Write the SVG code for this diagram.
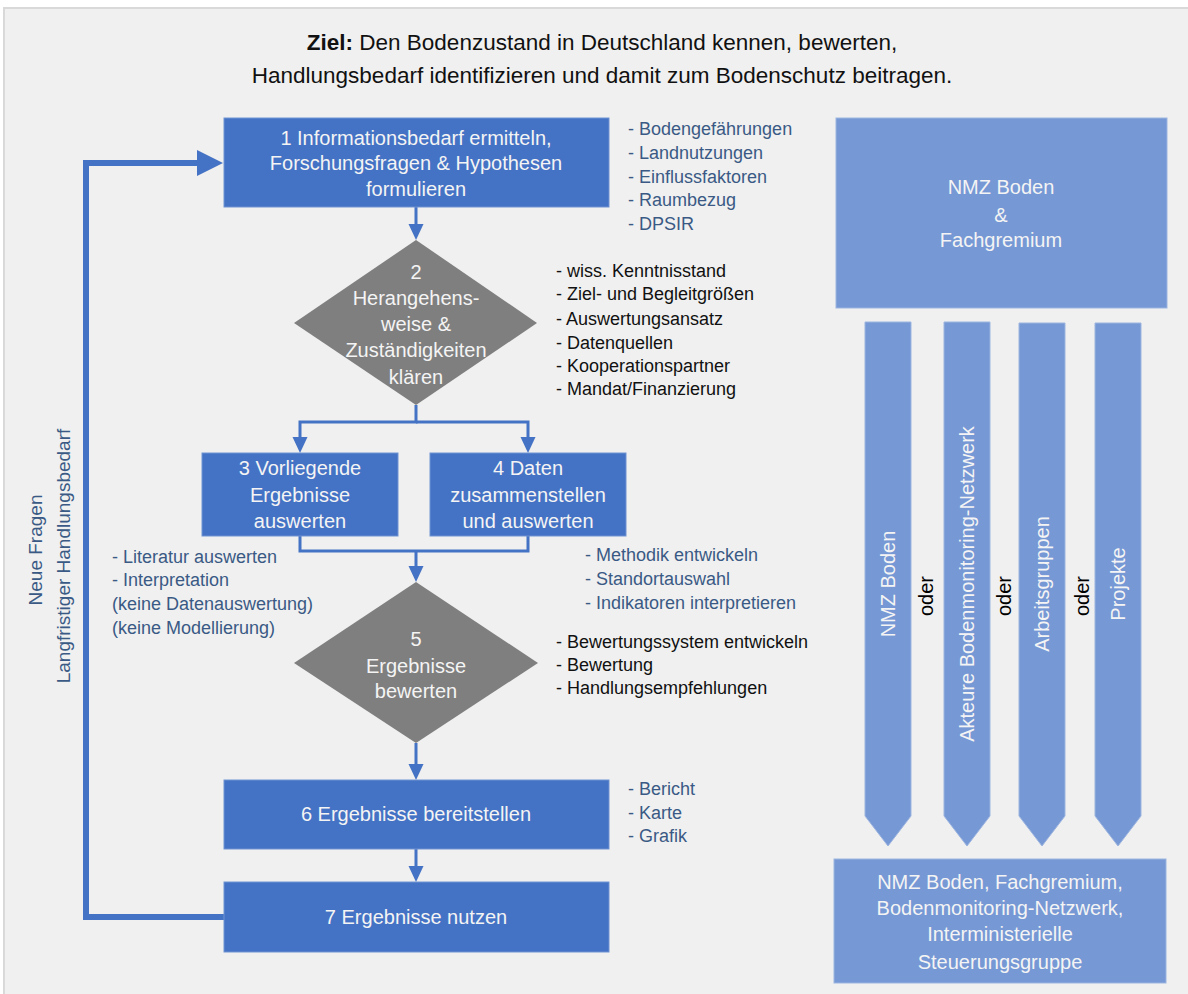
<svg xmlns="http://www.w3.org/2000/svg" width="1188" height="994" viewBox="0 0 1188 994">
<defs>
<style>
.t{font-family:"Liberation Sans",Arial,sans-serif}
.box{fill:#4472C4;stroke:#6F93D2;stroke-width:1}
.lbox{fill:#7698D4;stroke:#9DB5E0;stroke-width:1}
.dia{fill:#7F7F7F}
.wt{font-family:"Liberation Sans",Arial,sans-serif;font-size:20px;fill:#F4F4F4;text-anchor:middle}
.lb{font-family:"Liberation Sans",Arial,sans-serif;font-size:18px;fill:#3A5A85}
.lk{font-family:"Liberation Sans",Arial,sans-serif;font-size:18px;fill:#111111}
.con{fill:none;stroke:#4472C4;stroke-width:3}
.loop{fill:none;stroke:#4472C4;stroke-width:6}
.rot{font-family:"Liberation Sans",Arial,sans-serif;font-size:20px;fill:#F4F4F4;text-anchor:middle}
.oder{font-family:"Liberation Sans",Arial,sans-serif;font-size:20px;fill:#000;text-anchor:middle}
.side{font-family:"Liberation Sans",Arial,sans-serif;font-size:19px;fill:#3A5A85;text-anchor:middle}
</style>
<marker id="ah" markerUnits="userSpaceOnUse" markerWidth="18" markerHeight="16" refX="6" refY="7.5" orient="auto">
<path d="M0,0 L16,7.5 L0,15 Z" fill="#4472C4"/>
</marker>
<marker id="bah" markerUnits="userSpaceOnUse" markerWidth="28" markerHeight="28" refX="4" refY="13" orient="auto">
<path d="M0,0 L26,13 L0,26 Z" fill="#4472C4"/>
</marker>
</defs>

<rect x="4" y="8" width="1190" height="992" fill="#F0F0F0" stroke="#D9D9D9" stroke-width="2"/>

<g id="title">
<text class="t" x="602" y="50" font-size="22.5" text-anchor="middle" fill="#111"><tspan font-weight="bold">Ziel:</tspan> Den Bodenzustand in Deutschland kennen, bewerten,</text>
<text class="t" x="602" y="83" font-size="22.5" text-anchor="middle" fill="#111">Handlungsbedarf identifizieren und damit zum Bodenschutz beitragen.</text>
</g>

<g id="connectors">
<path class="con" d="M416,207 V230" marker-end="url(#ah)"/>
<path class="con" d="M416,405 V422 H300 V443" marker-end="url(#ah)"/>
<path class="con" d="M416,422 H528 V443" marker-end="url(#ah)"/>
<path class="con" d="M300,536 V551 H528 V536"/>
<path class="con" d="M416,551 V572" marker-end="url(#ah)"/>
<path class="con" d="M416,743 V770" marker-end="url(#ah)"/>
<path class="con" d="M416,849 V872" marker-end="url(#ah)"/>
<path class="loop" d="M224,917 H86 V163 H201" marker-end="url(#bah)"/>
</g>

<g id="n1">
<rect class="box" x="224" y="118" width="385" height="89"/>
<text class="wt" x="416" y="145">1 Informationsbedarf ermitteln,</text>
<text class="wt" x="416" y="170">Forschungsfragen &amp; Hypothesen</text>
<text class="wt" x="416" y="196">formulieren</text>
</g>
<g id="n1-list">
<text class="lb" x="628" y="135">- Bodengefährungen</text>
<text class="lb" x="628" y="159">- Landnutzungen</text>
<text class="lb" x="628" y="183">- Einflussfaktoren</text>
<text class="lb" x="628" y="206">- Raumbezug</text>
<text class="lb" x="628" y="230">- DPSIR</text>
</g>

<g id="n2">
<polygon class="dia" points="416,240 537,323 416,405 294,323"/>
<text class="wt" x="416" y="279">2</text>
<text class="wt" x="416" y="305">Herangehens-</text>
<text class="wt" x="416" y="331">weise &amp;</text>
<text class="wt" x="416" y="357">Zuständigkeiten</text>
<text class="wt" x="416" y="384">klären</text>
</g>
<g id="n2-list">
<text class="lk" x="556" y="277">- wiss. Kenntnisstand</text>
<text class="lk" x="556" y="300">- Ziel- und Begleitgrößen</text>
<text class="lk" x="556" y="325">- Auswertungsansatz</text>
<text class="lk" x="556" y="349">- Datenquellen</text>
<text class="lk" x="556" y="372">- Kooperationspartner</text>
<text class="lk" x="556" y="395">- Mandat/Finanzierung</text>
</g>

<g id="n3">
<rect class="box" x="202" y="453" width="196" height="83"/>
<text class="wt" x="300" y="475">3 Vorliegende</text>
<text class="wt" x="300" y="502">Ergebnisse</text>
<text class="wt" x="300" y="528">auswerten</text>
</g>
<g id="n3-list">
<text class="lb" x="112" y="563">- Literatur auswerten</text>
<text class="lb" x="112" y="586">- Interpretation</text>
<text class="lb" x="112" y="610">(keine Datenauswertung)</text>
<text class="lb" x="112" y="634">(keine Modellierung)</text>
</g>

<g id="n4">
<rect class="box" x="430" y="453" width="196" height="83"/>
<text class="wt" x="528" y="475">4 Daten</text>
<text class="wt" x="528" y="502">zusammenstellen</text>
<text class="wt" x="528" y="528">und auswerten</text>
</g>
<g id="n4-list">
<text class="lb" x="585" y="561">- Methodik entwickeln</text>
<text class="lb" x="585" y="585">- Standortauswahl</text>
<text class="lb" x="585" y="609">- Indikatoren interpretieren</text>
</g>

<g id="n5">
<polygon class="dia" points="416,582 538,663 416,743 294,663"/>
<text class="wt" x="416" y="646">5</text>
<text class="wt" x="416" y="673">Ergebnisse</text>
<text class="wt" x="416" y="698">bewerten</text>
</g>
<g id="n5-list">
<text class="lk" x="556" y="648">- Bewertungssystem entwickeln</text>
<text class="lk" x="556" y="671">- Bewertung</text>
<text class="lk" x="556" y="694">- Handlungsempfehlungen</text>
</g>

<g id="n6">
<rect class="box" x="224" y="780" width="385" height="69"/>
<text class="wt" x="416" y="821">6 Ergebnisse bereitstellen</text>
</g>
<g id="n6-list">
<text class="lb" x="628" y="795">- Bericht</text>
<text class="lb" x="628" y="819">- Karte</text>
<text class="lb" x="628" y="842">- Grafik</text>
</g>

<g id="n7">
<rect class="box" x="224" y="882" width="385" height="70"/>
<text class="wt" x="416" y="924">7 Ergebnisse nutzen</text>
</g>

<g id="loop-label">
<text class="side" transform="translate(42,550) rotate(-90)">Neue Fragen</text>
<text class="side" transform="translate(70,556) rotate(-90)">Langfristiger Handlungsbedarf</text>
</g>

<g id="r-top">
<rect class="lbox" x="836" y="118" width="331" height="190"/>
<text class="wt" x="1001" y="194">NMZ Boden</text>
<text class="wt" x="1001" y="222">&amp;</text>
<text class="wt" x="1001" y="247">Fachgremium</text>
</g>

<g id="r-a1">
<polygon class="lbox" points="865,322 911,322 911,816 888,846 865,816"/>
<text class="rot" transform="translate(895,584) rotate(-90)">NMZ Boden</text>
</g>
<g id="r-a2">
<polygon class="lbox" points="944,322 990,322 990,816 967,846 944,816"/>
<text class="rot" transform="translate(974,584) rotate(-90)">Akteure Bodenmonitoring-Netzwerk</text>
</g>
<g id="r-a3">
<polygon class="lbox" points="1019,323 1065,323 1065,816 1042,846 1019,816"/>
<text class="rot" transform="translate(1049,584) rotate(-90)">Arbeitsgruppen</text>
</g>
<g id="r-a4">
<polygon class="lbox" points="1095,323 1141,323 1141,816 1118,846 1095,816"/>
<text class="rot" transform="translate(1125,584) rotate(-90)">Projekte</text>
</g>
<g id="r-oder">
<text class="oder" transform="translate(933,596) rotate(-90)">oder</text>
<text class="oder" transform="translate(1011,596) rotate(-90)">oder</text>
<text class="oder" transform="translate(1089,596) rotate(-90)">oder</text>
</g>

<g id="r-bottom">
<rect class="lbox" x="834" y="859" width="332" height="124"/>
<text class="wt" x="1000" y="889">NMZ Boden, Fachgremium,</text>
<text class="wt" x="1000" y="915">Bodenmonitoring-Netzwerk,</text>
<text class="wt" x="1000" y="941">Interministerielle</text>
<text class="wt" x="1000" y="969">Steuerungsgruppe</text>
</g>
</svg>
